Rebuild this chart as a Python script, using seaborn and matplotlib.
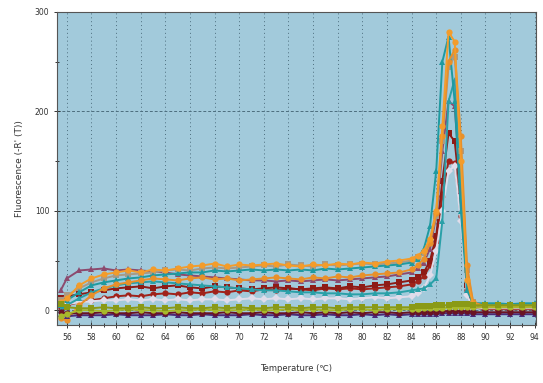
import matplotlib
matplotlib.use("Agg")
import matplotlib.pyplot as plt
import seaborn as sns
import pandas as pd
from matplotlib.ticker import MultipleLocator

# melt curve readings
temps = [55.5, 56, 57, 58, 59, 60, 61, 62, 63, 64, 65, 66, 67, 68, 69, 70, 71, 72, 73, 74,
         75, 76, 77, 78, 79, 80, 81, 82, 83, 84, 84.5, 85, 85.5, 86, 86.5, 87, 87.5, 88, 88.5, 89,
         90, 91, 92, 93, 94]

# positive wells
red_b = [2, 5, 8, 10, 12, 14, 15, 14, 16, 17, 16, 18, 17, 19, 18, 20, 19, 21, 20, 22,
         21, 20, 22, 21, 22, 21, 22, 23, 24, 26, 29, 34, 45, 70, 115, 150, 148, 95, 20, 3,
         1, 1, 1, 1, 1]
red_a = [12, 14, 16, 18, 20, 22, 23, 24, 22, 24, 25, 23, 22, 24, 23, 22, 21, 22, 23, 22,
         21, 22, 23, 22, 24, 23, 25, 26, 28, 30, 33, 38, 50, 75, 130, 178, 170, 110, 25, 4,
         2, 2, 2, 2, 2]
pale_a = [5, 6, 8, 9, 10, 10, 11, 10, 11, 10, 11, 10, 11, 11, 10, 11, 12, 11, 12, 11,
          12, 11, 12, 12, 11, 12, 13, 12, 13, 14, 17, 22, 35, 60, 100, 140, 145, 90, 15, 3,
          2, 2, 2, 2, 2]
mauve_a = [20, 32, 40, 41, 42, 40, 41, 40, 39, 38, 36, 35, 34, 33, 32, 31, 30, 30, 29, 30,
           29, 30, 31, 30, 31, 32, 33, 34, 36, 38, 42, 48, 62, 95, 160, 210, 205, 120, 30, 5,
           3, 3, 3, 3, 3]
teal_b = [0, 5, 12, 18, 22, 25, 27, 28, 29, 28, 27, 26, 25, 24, 23, 22, 21, 20, 20, 19,
          18, 18, 17, 17, 16, 16, 17, 17, 18, 20, 21, 22, 26, 32, 90, 210, 232, 130, 30, 6,
          6, 6, 6, 6, 6]
tan_a = [10, 15, 22, 28, 32, 35, 36, 37, 38, 40, 41, 40, 42, 43, 42, 43, 44, 45, 44, 46,
         45, 44, 46, 45, 46, 47, 46, 47, 48, 50, 54, 58, 70, 95, 170, 245, 255, 160, 40, 8,
         5, 5, 5, 5, 5]
teal_a = [5, 10, 18, 25, 28, 30, 32, 33, 35, 36, 37, 38, 38, 40, 39, 40, 41, 40, 41, 40,
          41, 40, 42, 41, 42, 43, 44, 45, 46, 48, 52, 62, 85, 140, 250, 275, 210, 100, 20, 7,
          7, 7, 6, 7, 7]
orange_b = [-8, -10, 5, 15, 22, 26, 28, 30, 32, 31, 30, 32, 33, 31, 32, 30, 31, 32, 33, 32,
            31, 33, 32, 34, 33, 35, 36, 37, 38, 41, 45, 52, 68, 98, 175, 250, 262, 175, 45, 8,
            4, 4, 4, 4, 4]
orange_a = [8, 12, 25, 32, 36, 38, 40, 38, 41, 40, 42, 44, 45, 47, 44, 46, 45, 46, 47, 45,
            44, 46, 45, 47, 46, 48, 47, 49, 50, 52, 55, 60, 72, 100, 185, 280, 270, 150, 30, 6,
            4, 4, 5, 4, 4]

# no-template / negative wells
purple_neg = [-4, -6, -5, -5, -5, -4, -5, -5, -5, -4, -5, -5, -4, -5, -5, -5, -4, -5, -5, -4,
              -5, -5, -4, -5, -5, -4, -5, -4, -5, -4, -4, -4, -4, -4, -3, -3, -3, -3, -3, -4,
              -4, -4, -4, -4, -4]
maroon_neg = [-2, -3, -3, -3, -2, -3, -3, -2, -3, -3, -2, -3, -3, -3, -2, -3, -3, -2, -3, -3,
              -2, -3, -2, -3, -2, -3, -2, -2, -3, -2, -2, -2, -2, -2, -1, -1, -1, -1, -1, -2,
              -2, -2, -2, -2, -2]
lime_neg = [-6, -4, 0, 0, -1, 0, 1, 0, 0, -1, 0, 0, 1, 0, 0, 0, 1, 0, 0, 1,
            0, 1, 0, 0, 1, 1, 0, 1, 1, 1, 1, 2, 2, 2, 2, 3, 3, 3, 3, 3,
            3, 3, 3, 3, 3]
olive_neg = [6, 3, 2, 2, 3, 2, 2, 3, 2, 2, 3, 2, 2, 3, 2, 3, 2, 2, 3, 3,
             2, 3, 3, 2, 3, 3, 3, 3, 3, 3, 4, 4, 4, 5, 5, 5, 6, 6, 6, 5,
             5, 5, 5, 5, 5]

x_ticks = list(range(56, 95, 2))
y_ticks = [0, 100, 200, 300]

wells = {
    "red_b": red_b, "red_a": red_a, "pale_a": pale_a, "mauve_a": mauve_a,
    "teal_b": teal_b, "tan_a": tan_a, "teal_a": teal_a, "orange_b": orange_b,
    "orange_a": orange_a, "purple_neg": purple_neg, "maroon_neg": maroon_neg,
    "lime_neg": lime_neg, "olive_neg": olive_neg,
}
colors = {
    "purple_neg": "#4b2a78", "maroon_neg": "#6a1424", "lime_neg": "#a8b82a",
    "olive_neg": "#8a9a16", "red_b": "#a0221a", "red_a": "#8e1b16", "pale_a": "#e0dcea",
    "mauve_a": "#8c4a6e", "teal_b": "#2aa0a8", "tan_a": "#a89a86", "teal_a": "#1f9aa0",
    "orange_b": "#e8902a", "orange_a": "#f39c2b",
}
markers = {
    "purple_neg": "^", "maroon_neg": "o", "lime_neg": "o", "olive_neg": "s",
    "red_b": "o", "red_a": "s", "pale_a": "D", "mauve_a": "^", "teal_b": "^",
    "tan_a": "s", "teal_a": "^", "orange_b": "o", "orange_a": "o",
}

rows = []
for name, vals in wells.items():
    for t, v in zip(temps, vals):
        rows.append({"temp": t, "fluor": v, "well": name})
df = pd.DataFrame(rows)

sns.set_theme(style="white")
plt.rcParams["font.family"] = ["DejaVu Sans"]

fig, ax = plt.subplots(figsize=(5.43, 3.83), dpi=100)
fig.subplots_adjust(left=0.105, right=0.987, bottom=0.151, top=0.969)
ax.set_facecolor("#a2cadb")

sns.lineplot(data=df, x="temp", y="fluor", hue="well", style="well",
             palette=colors, markers=markers, dashes=False, hue_order=list(wells),
             style_order=list(wells), estimator=None, sort=False, legend=False,
             linewidth=1.4, markersize=4.5, markeredgewidth=0, ax=ax)

ax.set_xlim(55.2, 94.1)
ax.set_ylim(-15, 300)
ax.set_xticks(x_ticks)
ax.xaxis.set_minor_locator(MultipleLocator(1))
ax.set_yticks(y_ticks)
ax.yaxis.set_minor_locator(MultipleLocator(50))

ax.grid(axis="x", which="major", linestyle=(0, (1, 3)), color="#4d6e7e", linewidth=0.7)
ax.grid(axis="y", which="major", linestyle=(0, (3, 2)), color="#4d6e7e", linewidth=0.7)
ax.set_axisbelow(True)

ax.tick_params(axis="both", which="both", direction="inout", colors="#333333",
               labelsize=5.5, length=4, width=0.7, bottom=True, left=True)
ax.tick_params(axis="both", which="minor", length=3)
for side, sp in ax.spines.items():
    sp.set_color("#555555")
    sp.set_linewidth(0.8)

ax.set_xlabel("Temperature (℃)", fontsize=6, color="#333333", labelpad=16)
ax.set_ylabel("Fluorescence (-R' (T))", fontsize=6.5, color="#333333", labelpad=8)

fig.savefig("out.png", dpi=100)
